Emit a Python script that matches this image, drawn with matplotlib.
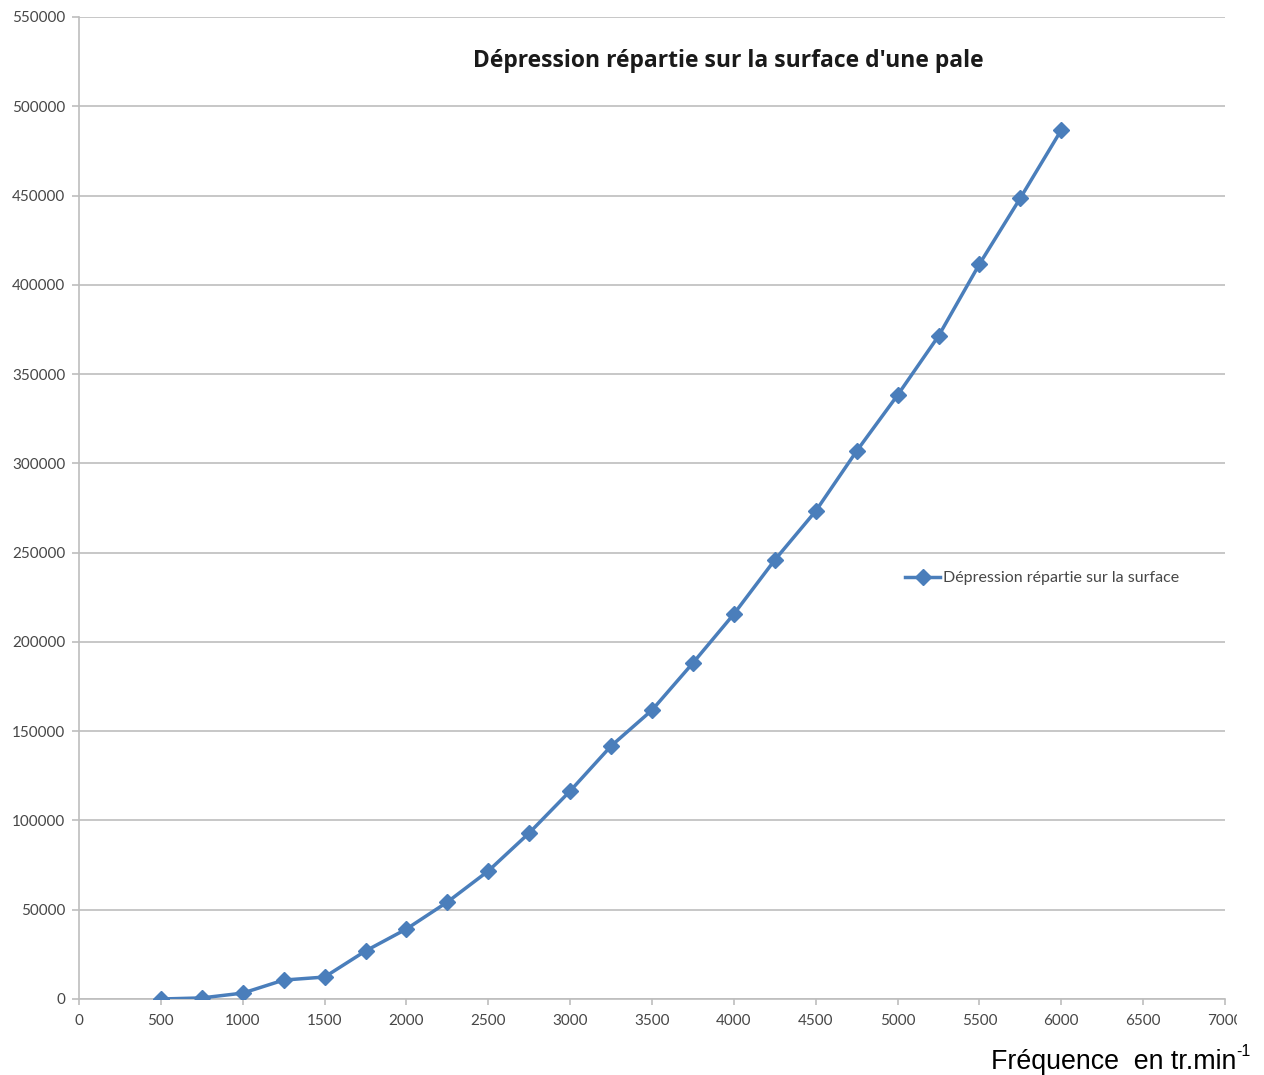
import matplotlib
matplotlib.use("Agg")
import matplotlib.pyplot as plt
from matplotlib.transforms import Bbox, TransformedBbox

frequence = [500, 750, 1000, 1250, 1500, 1750, 2000, 2250, 2500, 2750, 3000,
             3250, 3500, 3750, 4000, 4250, 4500, 4750, 5000, 5250, 5500, 5750, 6000]
depression = [0, 600, 3300, 10600, 12300, 26900, 39200, 54300, 71700, 93000, 116500,
              141700, 161800, 188200, 215600, 245900, 273300, 306900, 338200, 371300,
              411600, 448600, 486700]
x_ticks = list(range(0, 7001, 500))
y_ticks = list(range(0, 550001, 50000))

title = "Dépression répartie sur la surface d'une pale"
series_label = "Dépression répartie sur la surface"
xlabel_main = "Fréquence  en tr.min"
xlabel_sup = "-1"

W, H = 1264, 1075
fig = plt.figure(figsize=(W / 100, H / 100), dpi=100)
ax = fig.add_axes([79 / W, 1 - 999 / H, (1225 - 79) / W, (999 - 17) / H])

blue = '#4A7EBB'
grid = '#BEBEBE'
ax.plot(frequence, depression, color=blue, lw=2.5, marker='D', ms=8.5,
        markerfacecolor=blue, markeredgecolor=blue, label=series_label, zorder=3)

ax.set_xlim(0, 7000)
ax.set_ylim(0, 550000)
ax.set_xticks(x_ticks)
ax.set_yticks(y_ticks)
ax.set_xticklabels([str(v) for v in x_ticks], fontfamily='Lato', fontsize=11, color='#474747')
ax.set_yticklabels([str(v) for v in y_ticks], fontfamily='Lato', fontsize=11, color='#474747')
ax.yaxis.grid(True, color=grid, lw=1.2)
ax.set_axisbelow(True)
for s in ['top', 'right']:
    ax.spines[s].set_visible(False)
for s in ['left', 'bottom']:
    ax.spines[s].set_color(grid)
    ax.spines[s].set_linewidth(1.2)
ax.tick_params(axis='x', color=grid, length=4, width=1.2, pad=7)
ax.tick_params(axis='y', color=grid, length=5, width=1.2, pad=5)

# the reference image is cropped at its right edge, cutting the last tick label
clip = TransformedBbox(Bbox([[0, 0], [1237 / W, 1]]), fig.transFigure)
for lbl in ax.get_xticklabels():
    lbl.set_clip_on(True)
    lbl.set_clip_box(clip)

fig.text(728 / W, 1 - 61 / H, title, ha='center', va='center',
         fontfamily='Open Sans', fontweight='bold', fontsize=16.5, color='#1a1a1a')

leg = ax.legend(loc='center left', bbox_to_anchor=((905 - 79) / (1225 - 79), (999 - 578) / (999 - 17)),
                frameon=False, prop={'family': 'Lato', 'size': 11.5}, handlelength=2.2,
                handletextpad=0.2, borderaxespad=0, borderpad=0)
for t in leg.get_texts():
    t.set_color('#474747')

main = fig.text(991 / W, 1 - 1062 / H, xlabel_main, ha='left', va='center',
                fontfamily='Liberation Sans', fontsize=19.3, color='black')
ax.annotate(xlabel_sup, xy=(1, 0.62), xycoords=main, ha='left', va='bottom',
            fontfamily='Liberation Sans', fontsize=11.5, color='black', annotation_clip=False)

fig.savefig('out.png', dpi=100)
